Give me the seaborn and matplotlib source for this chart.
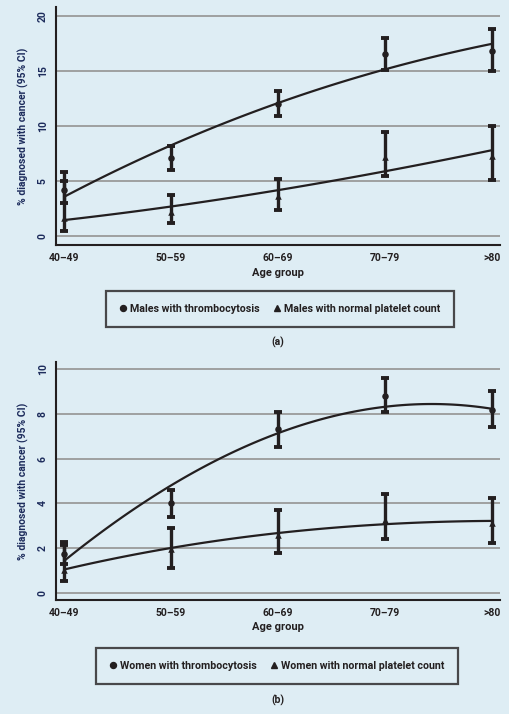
import numpy as np
import pandas as pd
import seaborn as sns
import matplotlib.pyplot as plt
from matplotlib.lines import Line2D

# data
age_groups = ['40–49', '50–59', '60–69', '70–79', '>80']

# (a) males
men_thromb = [4.2, 7.1, 12.0, 16.5, 16.8]
men_thromb_lo = [3.0, 6.0, 10.9, 15.1, 15.0]
men_thromb_hi = [5.8, 8.2, 13.2, 18.0, 18.8]
men_thromb_fit = [3.55, 8.25, 12.05, 15.15, 17.45]

men_normal = [1.6, 2.2, 3.6, 7.2, 7.25]
men_normal_lo = [0.45, 1.2, 2.4, 5.45, 5.1]
men_normal_hi = [5.0, 3.7, 5.15, 9.4, 10.0]
men_normal_fit = [1.45, 2.65, 4.2, 5.85, 7.8]

# (b) women
women_thromb = [1.75, 4.0, 7.3, 8.8, 8.15]
women_thromb_lo = [1.3, 3.4, 6.5, 8.1, 7.4]
women_thromb_hi = [2.3, 4.6, 8.1, 9.6, 9.0]
women_thromb_fit = [1.43, 4.81, 7.12, 8.32, 8.22]

women_normal = [1.05, 1.98, 2.6, 3.25, 3.13]
women_normal_lo = [0.52, 1.1, 1.8, 2.43, 2.24]
women_normal_hi = [2.15, 2.9, 3.7, 4.4, 4.25]
women_normal_fit = [1.05, 2.01, 2.68, 3.07, 3.22]

BG = '#deedf4'
NAVY = '#1d2c5c'
INK = '#231f20'

sns.set_theme(style='white')
plt.rcParams['font.family'] = ['Roboto', 'DejaVu Sans']
plt.rcParams['font.weight'] = 'bold'
plt.rcParams['axes.labelweight'] = 'bold'

fig = plt.figure(figsize=(5.09, 7.14), dpi=100)
fig.patch.set_facecolor(BG)

W, H = 509, 714
xs = np.arange(len(age_groups))


def px_axes(top, bottom, left=56, right=500):
    return fig.add_axes([left / W, 1 - bottom / H, (right - left) / W, (bottom - top) / H])


def draw_panel(ax, series, ylim, yticks):
    ax.set_facecolor(BG)
    for vals, lo, hi, fit, marker in series:
        df = pd.DataFrame({'x': xs, 'y': vals, 'fit': fit})
        ax.errorbar(xs, vals,
                    yerr=[np.array(vals) - np.array(lo), np.array(hi) - np.array(vals)],
                    fmt='none', ecolor=INK, elinewidth=2.4, capsize=3.2, capthick=2.8, zorder=3)
        sns.scatterplot(data=df, x='x', y='y', marker=marker, s=22, color=INK,
                        edgecolor=INK, linewidth=0, ax=ax, zorder=4, legend=False)
        sns.regplot(data=df, x='x', y='fit', order=3, ci=None, scatter=False, truncate=True,
                    line_kws=dict(color=INK, lw=1.6, zorder=5), ax=ax)
    ax.set_xlim(-0.075, 4.075)
    ax.set_ylim(*ylim)
    ax.set_yticks(yticks)
    ax.set_xticks(xs)
    ax.set_xticklabels(age_groups, fontsize=7.5, color=INK)
    ax.set_yticklabels([str(t) for t in yticks], rotation=90, va='center',
                       fontsize=7.5, color=NAVY)
    ax.yaxis.grid(True, color='#9a9a9a', lw=1.3)
    ax.set_axisbelow(True)
    for s in ['top', 'right']:
        ax.spines[s].set_visible(False)
    for s in ['left', 'bottom']:
        ax.spines[s].set_color(INK)
        ax.spines[s].set_linewidth(1.5)
    ax.tick_params(axis='both', direction='out', length=4, width=1.5, color=INK, pad=2)
    ax.set_xlabel('Age group', fontsize=8, color=INK, labelpad=3)
    ax.set_ylabel('% diagnosed with cancer (95% CI)', fontsize=7.5, color=NAVY, labelpad=6)


def draw_legend(ax, labels, cx, cy):
    handles = [Line2D([], [], marker='o', ls='none', color=INK, markersize=4.3),
               Line2D([], [], marker='^', ls='none', color=INK, markersize=4.3)]
    leg = fig.legend(handles, labels, loc='center', bbox_to_anchor=(cx / W, 1 - cy / H),
                     ncol=2, frameon=True, fancybox=False, fontsize=7.7, handlelength=0.6,
                     handletextpad=0.4, columnspacing=1.3, borderpad=1.25,
                     facecolor=BG, edgecolor=INK)
    leg.get_frame().set_linewidth(1.6)
    for t in leg.get_texts():
        t.set_color(INK)


ax1 = px_axes(7, 245)
draw_panel(ax1, [(men_thromb, men_thromb_lo, men_thromb_hi, men_thromb_fit, 'o'),
                 (men_normal, men_normal_lo, men_normal_hi, men_normal_fit, '^')],
           (-0.82, 20.8), [0, 5, 10, 15, 20])
draw_legend(ax1, ['Males with thrombocytosis', 'Males with normal platelet count'], 280, 309)
fig.text(278 / W, 1 - 342 / H, '(a)', ha='center', va='center', fontsize=7.5, color=INK)

ax2 = px_axes(362, 600)
draw_panel(ax2, [(women_thromb, women_thromb_lo, women_thromb_hi, women_thromb_fit, 'o'),
                 (women_normal, women_normal_lo, women_normal_hi, women_normal_fit, '^')],
           (-0.31, 10.31), [0, 2, 4, 6, 8, 10])
draw_legend(ax2, ['Women with thrombocytosis', 'Women with normal platelet count'], 277, 666)
fig.text(278 / W, 1 - 700 / H, '(b)', ha='center', va='center', fontsize=7.5, color=INK)

fig.savefig('out.png', dpi=100, facecolor=BG)
